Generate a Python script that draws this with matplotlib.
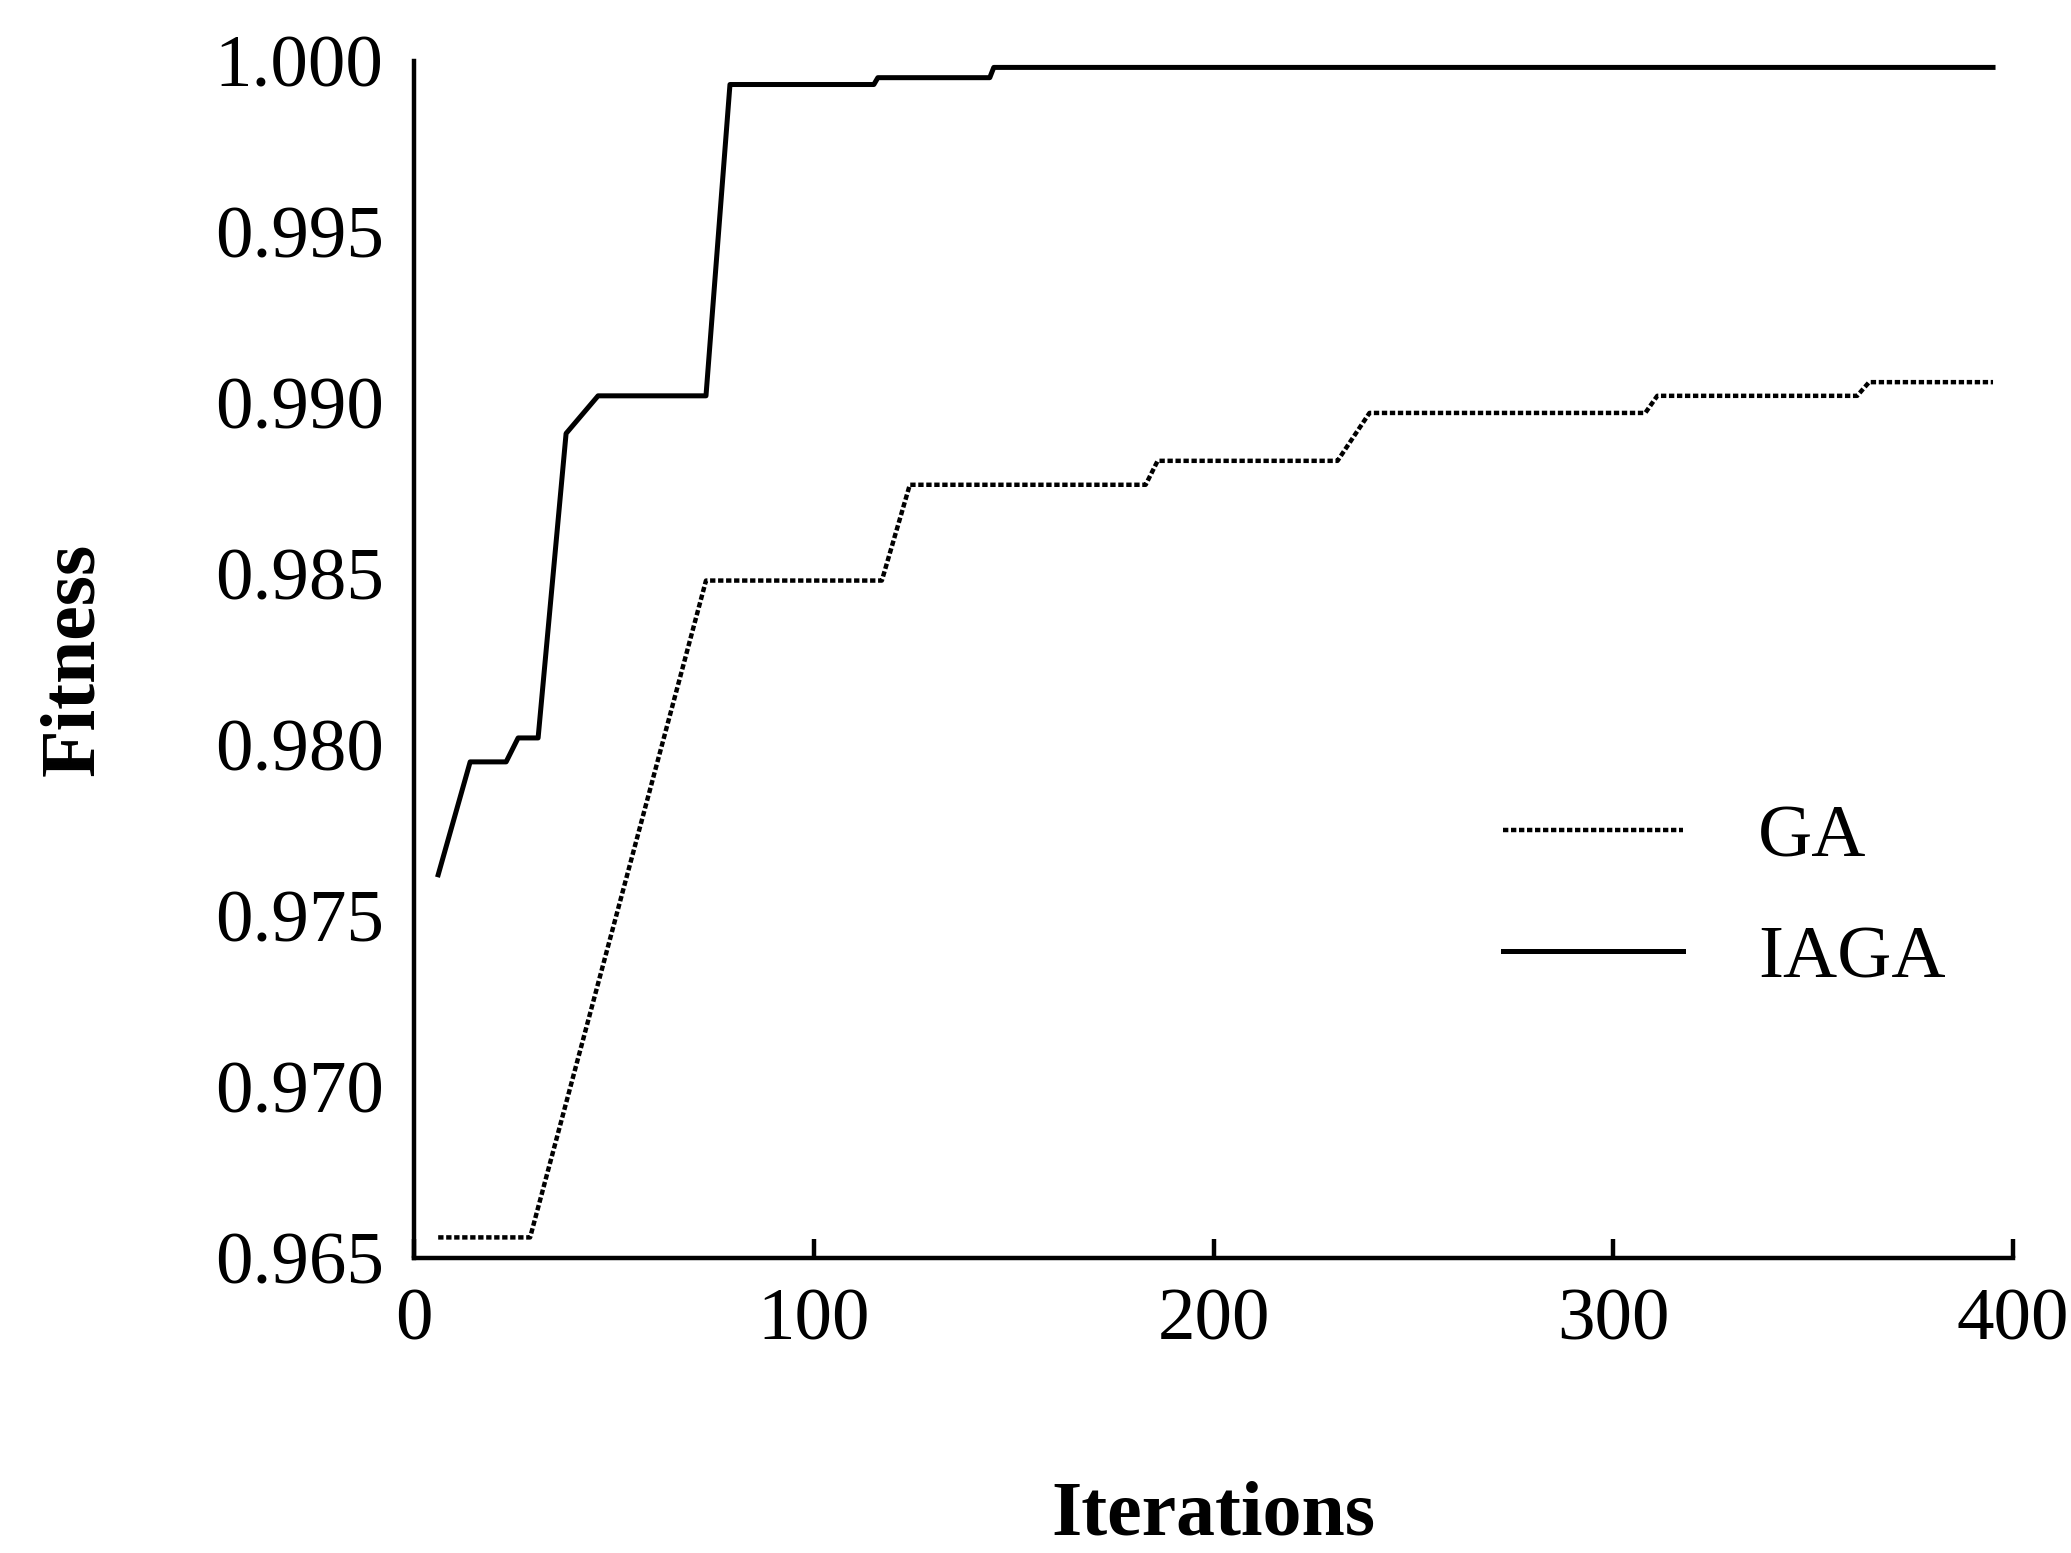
import matplotlib
matplotlib.use("Agg")
import matplotlib.pyplot as plt

iaga_x = [6, 14, 23, 26, 31, 38, 46, 73, 79, 115, 116, 144, 145, 395]
iaga_y = [0.9762, 0.9795, 0.9795, 0.9802, 0.9802, 0.9891, 0.9902, 0.9902, 0.9993, 0.9993, 0.9995, 0.9995, 0.9998, 0.9998]
ga_x = [6, 29, 73, 117, 124, 183, 186, 231, 239, 308, 311, 361, 364, 395]
ga_y = [0.9656, 0.9656, 0.9848, 0.9848, 0.9876, 0.9876, 0.9883, 0.9883, 0.9897, 0.9897, 0.9902, 0.9902, 0.9906, 0.9906]
xticks = [0, 100, 200, 300, 400]
yticks = [0.965, 0.970, 0.975, 0.980, 0.985, 0.990, 0.995, 1.000]

plt.rcParams['font.family'] = ['Liberation Serif']
fig = plt.figure(figsize=(20.71, 15.53), dpi=100)
ax = fig.add_axes([0.2, 0.19, 0.772, 0.771])
ax.plot(ga_x, ga_y, color='black', lw=3.2, linestyle=(0, (1.2, 0.6)), label='GA')
ax.plot(iaga_x, iaga_y, color='black', lw=3.6, label='IAGA')
ax.set_xlim(0, 400)
ax.set_ylim(0.965, 1.000)
ax.set_xticks(xticks)
ax.set_yticks(yticks)
ax.set_yticklabels([f"{v:.3f}" for v in yticks])
ax.spines['top'].set_visible(False)
ax.spines['right'].set_visible(False)
for s in ['left', 'bottom']:
    ax.spines[s].set_linewidth(3.2)
ax.tick_params(axis='both', direction='in', length=14, width=3.2, labelsize=54, pad=22)
ax.tick_params(axis='y', length=0)
ax.set_xlabel('Iterations', fontsize=56, fontweight='bold', labelpad=90)
ax.set_ylabel('Fitness', fontsize=56, fontweight='bold', labelpad=75)
ax.legend(loc='center right', bbox_to_anchor=(1.0, 0.3), frameon=False, fontsize=54,
          handlelength=2.4, labelspacing=0.7, handletextpad=1.0)
fig.savefig('out.png', dpi=100)
